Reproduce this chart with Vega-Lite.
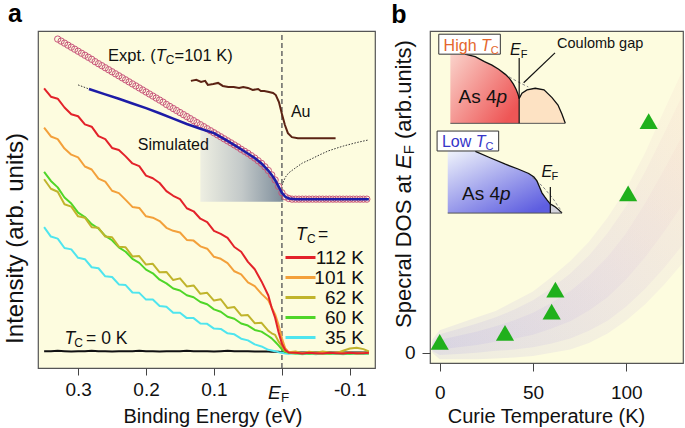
{
"$schema": "https://vega.github.io/schema/vega-lite/v6.json",
"background": "white",
"padding": {"left": 2, "top": 1, "right": 2, "bottom": 0},
"spacing": 14,
"config": {
 "font": "Liberation Sans",
 "axis": {"labelColor": "#111", "titleColor": "#111", "tickColor": "#444", "tickWidth": 1, "domain": false, "grid": false, "titleFontWeight": "normal", "labelFont": "Liberation Sans", "titleFont": "Liberation Sans"},
 "text": {"font": "Liberation Sans", "color": "#111"}
},
"datasets": {
 "spec": [
  {"e":0.35,"0 K":5.0,"35 K":41.8,"60 K":58.2,"62 K":56.0,"101 K":71.3,"112 K":83.0},
  {"e":0.34,"0 K":5.0,"35 K":39.0,"60 K":55.5,"62 K":53.2,"101 K":68.7,"112 K":80.5},
  {"e":0.33,"0 K":5.1,"35 K":38.4,"60 K":53.6,"62 K":52.3,"101 K":67.9,"112 K":79.9},
  {"e":0.32,"0 K":5.0,"35 K":35.6,"60 K":50.6,"62 K":48.6,"101 K":65.1,"112 K":77.3},
  {"e":0.31,"0 K":4.9,"35 K":35.2,"60 K":48.8,"62 K":47.9,"101 K":63.3,"112 K":75.3},
  {"e":0.30,"0 K":5.0,"35 K":32.7,"60 K":46.1,"62 K":45.0,"101 K":62.5,"112 K":74.7},
  {"e":0.29,"0 K":5.0,"35 K":32.3,"60 K":44.8,"62 K":44.6,"101 K":59.8,"112 K":72.3},
  {"e":0.28,"0 K":5.1,"35 K":29.9,"60 K":42.7,"62 K":41.8,"101 K":58.9,"112 K":71.6},
  {"e":0.27,"0 K":5.0,"35 K":29.6,"60 K":41.4,"62 K":41.6,"101 K":56.2,"112 K":68.8},
  {"e":0.26,"0 K":5.0,"35 K":27.2,"60 K":39.2,"62 K":39.0,"101 K":55.3,"112 K":67.9},
  {"e":0.25,"0 K":4.9,"35 K":27.0,"60 K":37.9,"62 K":38.8,"101 K":52.6,"112 K":65.3},
  {"e":0.24,"0 K":5.0,"35 K":24.8,"60 K":35.8,"62 K":36.0,"101 K":51.9,"112 K":64.7},
  {"e":0.23,"0 K":5.0,"35 K":24.6,"60 K":34.5,"62 K":35.8,"101 K":49.9,"112 K":62.8},
  {"e":0.22,"0 K":5.0,"35 K":22.4,"60 K":32.4,"62 K":33.1,"101 K":47.8,"112 K":60.7},
  {"e":0.21,"0 K":5.1,"35 K":22.3,"60 K":31.2,"62 K":33.2,"101 K":47.5,"112 K":59.9},
  {"e":0.20,"0 K":5.0,"35 K":20.3,"60 K":29.2,"62 K":30.7,"101 K":45.0,"112 K":57.1},
  {"e":0.19,"0 K":5.0,"35 K":20.3,"60 K":28.1,"62 K":30.9,"101 K":44.6,"112 K":56.3},
  {"e":0.18,"0 K":4.9,"35 K":18.4,"60 K":26.2,"62 K":28.4,"101 K":43.6,"112 K":54.9},
  {"e":0.17,"0 K":5.0,"35 K":18.2,"60 K":25.1,"62 K":28.5,"101 K":41.6,"112 K":52.5},
  {"e":0.16,"0 K":5.0,"35 K":16.4,"60 K":23.6,"62 K":26.1,"101 K":40.7,"112 K":51.1},
  {"e":0.15,"0 K":5.0,"35 K":16.4,"60 K":23.0,"62 K":26.6,"101 K":40.2,"112 K":50.1},
  {"e":0.14,"0 K":5.1,"35 K":14.8,"60 K":21.6,"62 K":24.2,"101 K":38.0,"112 K":47.4},
  {"e":0.13,"0 K":5.0,"35 K":14.8,"60 K":21.0,"62 K":24.5,"101 K":37.8,"112 K":46.5},
  {"e":0.12,"0 K":5.0,"35 K":13.2,"60 K":19.6,"62 K":22.0,"101 K":36.1,"112 K":44.3},
  {"e":0.11,"0 K":5.0,"35 K":13.1,"60 K":18.9,"62 K":22.3,"101 K":35.4,"112 K":43.3},
  {"e":0.10,"0 K":4.9,"35 K":11.7,"60 K":17.4,"62 K":20.0,"101 K":33.0,"112 K":40.7},
  {"e":0.09,"0 K":5.0,"35 K":11.6,"60 K":16.7,"62 K":20.4,"101 K":32.4,"112 K":39.8},
  {"e":0.08,"0 K":5.1,"35 K":10.3,"60 K":15.2,"62 K":17.8,"101 K":31.1,"112 K":38.6},
  {"e":0.07,"0 K":5.0,"35 K":10.0,"60 K":14.6,"62 K":18.1,"101 K":28.7,"112 K":35.9},
  {"e":0.06,"0 K":5.0,"35 K":8.7,"60 K":13.2,"62 K":15.6,"101 K":27.8,"112 K":34.5},
  {"e":0.05,"0 K":5.0,"35 K":8.2,"60 K":12.6,"62 K":15.7,"101 K":25.4,"112 K":31.5},
  {"e":0.04,"0 K":4.9,"35 K":7.0,"60 K":11.3,"62 K":13.3,"101 K":24.3,"112 K":29.3},
  {"e":0.03,"0 K":4.9,"35 K":6.4,"60 K":10.8,"62 K":13.4,"101 K":22.0,"112 K":25.7},
  {"e":0.02,"0 K":4.9,"35 K":5.4,"60 K":9.5,"62 K":11.0,"101 K":20.1,"112 K":21.5},
  {"e":0.015,"0 K":4.8,"35 K":5.2,"60 K":8.8,"62 K":10.3,"101 K":18.0,"112 K":17.8},
  {"e":0.01,"0 K":4.8,"35 K":5.0,"60 K":7.8,"62 K":9.8,"101 K":15.9,"112 K":14.9},
  {"e":0.005,"0 K":4.8,"35 K":4.7,"60 K":6.7,"62 K":7.9,"101 K":12.8,"112 K":10.7},
  {"e":0.0,"0 K":4.7,"35 K":4.5,"60 K":5.5,"62 K":6.5,"101 K":8.8,"112 K":7.2},
  {"e":-0.005,"0 K":4.7,"35 K":4.3,"60 K":4.8,"62 K":5.0,"101 K":5.8,"112 K":5.3},
  {"e":-0.01,"0 K":4.6,"35 K":4.2,"60 K":4.5,"62 K":4.7,"101 K":4.7,"112 K":4.6},
  {"e":-0.02,"0 K":4.6,"35 K":4.4,"60 K":4.3,"62 K":4.9,"101 K":4.6,"112 K":4.5},
  {"e":-0.03,"0 K":4.6,"35 K":4.1,"60 K":4.4,"62 K":4.4,"101 K":4.4,"112 K":4.3},
  {"e":-0.04,"0 K":4.6,"35 K":4.3,"60 K":4.2,"62 K":4.8,"101 K":4.5,"112 K":4.5},
  {"e":-0.05,"0 K":4.6,"35 K":4.1,"60 K":4.4,"62 K":4.5,"101 K":4.3,"112 K":4.4},
  {"e":-0.06,"0 K":4.6,"35 K":4.4,"60 K":4.3,"62 K":4.9,"101 K":4.5,"112 K":4.3},
  {"e":-0.07,"0 K":4.6,"35 K":4.2,"60 K":4.2,"62 K":4.6,"101 K":4.4,"112 K":4.5},
  {"e":-0.08,"0 K":4.6,"35 K":4.3,"60 K":4.4,"62 K":4.4,"101 K":4.6,"112 K":4.4},
  {"e":-0.09,"0 K":4.6,"35 K":4.1,"60 K":4.3,"62 K":5.1,"101 K":4.4,"112 K":4.3},
  {"e":-0.10,"0 K":4.6,"35 K":4.3,"60 K":4.2,"62 K":5.8,"101 K":4.5,"112 K":4.5},
  {"e":-0.11,"0 K":4.6,"35 K":4.2,"60 K":4.4,"62 K":6.0,"101 K":4.3,"112 K":4.4},
  {"e":-0.12,"0 K":4.6,"35 K":4.3,"60 K":4.3,"62 K":5.6,"101 K":4.5,"112 K":4.4},
  {"e":-0.128,"0 K":4.6,"35 K":4.2,"60 K":4.3,"62 K":4.9,"101 K":4.4,"112 K":4.5}
 ],
 "circ": [
  {"e":0.330,"v":97.6},{"e":0.325,"v":97.0},{"e":0.320,"v":96.4},{"e":0.315,"v":95.8},{"e":0.310,"v":95.2},{"e":0.305,"v":94.6},{"e":0.300,"v":94.0},{"e":0.295,"v":93.4},{"e":0.290,"v":92.8},{"e":0.285,"v":92.2},
  {"e":0.280,"v":91.6},{"e":0.275,"v":90.9},{"e":0.270,"v":90.3},{"e":0.265,"v":89.7},{"e":0.260,"v":89.1},{"e":0.255,"v":88.5},{"e":0.250,"v":87.9},{"e":0.245,"v":87.3},{"e":0.240,"v":86.7},{"e":0.235,"v":86.1},
  {"e":0.230,"v":85.5},{"e":0.225,"v":84.9},{"e":0.220,"v":84.3},{"e":0.215,"v":83.7},{"e":0.210,"v":83.1},{"e":0.205,"v":82.5},{"e":0.200,"v":81.9},{"e":0.195,"v":81.3},{"e":0.190,"v":80.7},{"e":0.185,"v":80.1},
  {"e":0.180,"v":79.5},{"e":0.175,"v":78.9},{"e":0.170,"v":78.2},{"e":0.165,"v":77.6},{"e":0.160,"v":77.0},{"e":0.155,"v":76.4},{"e":0.150,"v":75.8},{"e":0.145,"v":75.2},{"e":0.140,"v":74.6},{"e":0.135,"v":74.0},
  {"e":0.130,"v":73.4},{"e":0.125,"v":72.8},{"e":0.120,"v":72.2},{"e":0.115,"v":71.6},{"e":0.110,"v":71.0},{"e":0.105,"v":70.4},{"e":0.100,"v":69.8},{"e":0.095,"v":69.2},{"e":0.090,"v":68.6},{"e":0.085,"v":68.0},
  {"e":0.080,"v":67.4},{"e":0.075,"v":66.8},{"e":0.070,"v":66.2},{"e":0.065,"v":65.6},{"e":0.060,"v":64.9},{"e":0.055,"v":64.3},{"e":0.050,"v":63.7},{"e":0.045,"v":63.0},{"e":0.040,"v":62.3},{"e":0.035,"v":61.5},
  {"e":0.030,"v":60.7},{"e":0.025,"v":59.7},{"e":0.020,"v":58.6},{"e":0.015,"v":57.3},{"e":0.010,"v":55.8},{"e":0.005,"v":53.9},{"e":0.000,"v":52.0},{"e":-0.005,"v":50.8},{"e":-0.010,"v":50.3},{"e":-0.015,"v":50.1},
  {"e":-0.020,"v":50.1},{"e":-0.025,"v":50.1},{"e":-0.030,"v":50.1},{"e":-0.035,"v":50.1},{"e":-0.040,"v":50.1},{"e":-0.045,"v":50.1},{"e":-0.050,"v":50.1},{"e":-0.055,"v":50.1},{"e":-0.060,"v":50.1},{"e":-0.065,"v":50.1},
  {"e":-0.070,"v":50.1},{"e":-0.075,"v":50.1},{"e":-0.080,"v":50.1},{"e":-0.085,"v":50.1},{"e":-0.090,"v":50.1},{"e":-0.095,"v":50.1},{"e":-0.100,"v":50.1},{"e":-0.105,"v":50.1},{"e":-0.110,"v":50.1},{"e":-0.115,"v":50.1},
  {"e":-0.120,"v":50.1},{"e":-0.125,"v":50.1}
 ],
 "sim": [
  {"e":0.284,"v":82.8},{"e":0.26,"v":81.2},{"e":0.24,"v":79.9},{"e":0.22,"v":78.5},{"e":0.20,"v":77.1},{"e":0.18,"v":75.6},{"e":0.16,"v":74.0},{"e":0.14,"v":72.4},{"e":0.12,"v":71.0},{"e":0.10,"v":69.7},
  {"e":0.08,"v":67.4},{"e":0.06,"v":64.9},{"e":0.04,"v":62.3},{"e":0.03,"v":60.7},{"e":0.02,"v":58.6},{"e":0.015,"v":57.3},{"e":0.01,"v":55.8},{"e":0.005,"v":53.9},{"e":0.0,"v":52.0},{"e":-0.005,"v":50.8},
  {"e":-0.01,"v":50.3},{"e":-0.02,"v":50.1},{"e":-0.128,"v":50.1}
 ],
 "shade": [
  {"e":0.12,"v":71.0},{"e":0.10,"v":69.7},{"e":0.08,"v":67.4},{"e":0.06,"v":64.9},{"e":0.04,"v":62.3},{"e":0.03,"v":60.7},{"e":0.02,"v":58.6},{"e":0.015,"v":57.3},{"e":0.01,"v":55.8},{"e":0.005,"v":53.9},{"e":0.0,"v":52.0},{"e":-0.002,"v":51.3}
 ],
 "dl": [{"e":0.30,"v":84.0},{"e":0.284,"v":82.8}],
 "dr": [{"e":0.0,"v":54.2},{"e":-0.005,"v":56.6},{"e":-0.01,"v":57.9},{"e":-0.018,"v":59.1},{"e":-0.03,"v":60.8},{"e":-0.043,"v":62.0},{"e":-0.055,"v":63.2},{"e":-0.068,"v":64.4},{"e":-0.08,"v":65.2},{"e":-0.091,"v":65.9},{"e":-0.11,"v":66.9},{"e":-0.128,"v":67.7}],
 "au": [
  {"e":0.134,"v":85.2},{"e":0.126,"v":85.5},{"e":0.119,"v":84.9},{"e":0.113,"v":85.2},{"e":0.109,"v":84.0},{"e":0.101,"v":84.3},{"e":0.094,"v":84.6},{"e":0.087,"v":83.7},{"e":0.079,"v":83.4},{"e":0.071,"v":83.4},
  {"e":0.063,"v":83.1},{"e":0.057,"v":83.4},{"e":0.050,"v":83.1},{"e":0.043,"v":82.5},{"e":0.035,"v":82.8},{"e":0.031,"v":82.2},{"e":0.026,"v":82.2},{"e":0.019,"v":81.9},{"e":0.013,"v":81.6},{"e":0.009,"v":81.0},
  {"e":0.0044,"v":78.9},{"e":0.0,"v":75.4},{"e":-0.0044,"v":72.1},{"e":-0.0088,"v":69.7},{"e":-0.0147,"v":68.5},{"e":-0.0235,"v":68.2},{"e":-0.05,"v":68.2},{"e":-0.079,"v":68.2}
 ],
 "efline": [{"e":0.0,"v":0.0,"v2":100.0}],
 "tri": [{"T":0,"d":0.034},{"T":35,"d":0.062},{"T":60,"d":0.128},{"T":62,"d":0.196},{"T":101,"d":0.495},{"T":112,"d":0.72}],
 "band": [
  {"b":1,"T":-4,"d":0.0,"d2":0.04},{"b":1,"T":0,"d":-0.02,"d2":0.07},{"b":1,"T":10,"d":-0.02,"d2":0.09},{"b":1,"T":20,"d":-0.02,"d2":0.11},{"b":1,"T":30,"d":-0.018,"d2":0.13},{"b":1,"T":40,"d":-0.015,"d2":0.16},{"b":1,"T":50,"d":-0.01,"d2":0.19},{"b":1,"T":60,"d":0.0,"d2":0.235},{"b":1,"T":70,"d":0.01,"d2":0.285},{"b":1,"T":80,"d":0.03,"d2":0.345},{"b":1,"T":90,"d":0.06,"d2":0.42},{"b":1,"T":100,"d":0.1,"d2":0.51},{"b":1,"T":110,"d":0.15,"d2":0.62},{"b":1,"T":120,"d":0.21,"d2":0.75},{"b":1,"T":130.4,"d":0.28,"d2":0.88},
  {"b":2,"T":-4,"d":0.005,"d2":0.03},{"b":2,"T":0,"d":-0.0075,"d2":0.0575},{"b":2,"T":10,"d":-0.004,"d2":0.074},{"b":2,"T":20,"d":-0.0005,"d2":0.0905},{"b":2,"T":30,"d":0.006,"d2":0.11},{"b":2,"T":40,"d":0.0096,"d2":0.134},{"b":2,"T":50,"d":0.017,"d2":0.163},{"b":2,"T":60,"d":0.029,"d2":0.201},{"b":2,"T":70,"d":0.044,"d2":0.246},{"b":2,"T":80,"d":0.068,"d2":0.302},{"b":2,"T":90,"d":0.099,"d2":0.372},{"b":2,"T":100,"d":0.144,"d2":0.456},{"b":2,"T":110,"d":0.198,"d2":0.562},{"b":2,"T":120,"d":0.262,"d2":0.678},{"b":2,"T":130.4,"d":0.336,"d2":0.804},
  {"b":3,"T":-4,"d":0.012,"d2":0.022},{"b":3,"T":0,"d":0.01,"d2":0.04},{"b":3,"T":10,"d":0.017,"d2":0.053},{"b":3,"T":20,"d":0.024,"d2":0.066},{"b":3,"T":30,"d":0.034,"d2":0.082},{"b":3,"T":40,"d":0.043,"d2":0.101},{"b":3,"T":50,"d":0.056,"d2":0.124},{"b":3,"T":60,"d":0.075,"d2":0.155},{"b":3,"T":70,"d":0.098,"d2":0.192},{"b":3,"T":80,"d":0.131,"d2":0.239},{"b":3,"T":90,"d":0.172,"d2":0.298},{"b":3,"T":100,"d":0.228,"d2":0.372},{"b":3,"T":110,"d":0.296,"d2":0.464},{"b":3,"T":120,"d":0.374,"d2":0.566},{"b":3,"T":130.4,"d":0.462,"d2":0.678}
 ],
 "redA": [{"T":5.7,"d":0.928},{"T":13.6,"d":0.928},{"T":19,"d":0.92},{"T":24,"d":0.905},{"T":28,"d":0.894},{"T":31.6,"d":0.881},{"T":35.0,"d":0.866},{"T":37.5,"d":0.852},{"T":39.5,"d":0.835},{"T":41.0,"d":0.818},{"T":42.0,"d":0.803},{"T":42.6,"d":0.79}],
 "peach": [{"T":42.6,"d":0.79},{"T":44.1,"d":0.807},{"T":46.8,"d":0.817},{"T":51.2,"d":0.822},{"T":55.9,"d":0.817},{"T":60.2,"d":0.793},{"T":63.4,"d":0.77},{"T":65.5,"d":0.742},{"T":67.3,"d":0.713}],
 "blueA": [{"T":4.3,"d":0.627},{"T":19.1,"d":0.626},{"T":27,"d":0.606},{"T":35.2,"d":0.586},{"T":42,"d":0.571},{"T":47.7,"d":0.557},{"T":50.5,"d":0.546},{"T":52.1,"d":0.534},{"T":53.5,"d":0.515},{"T":54.8,"d":0.497},{"T":56.2,"d":0.485},{"T":57.5,"d":0.475},{"T":59.3,"d":0.462}],
 "grayA": [{"T":59.3,"d":0.462},{"T":60.6,"d":0.458},{"T":62.0,"d":0.453},{"T":63.8,"d":0.444},{"T":65.5,"d":0.434}],
 "blueL": [{"T":19.1,"d":0.626},{"T":27,"d":0.606},{"T":35.2,"d":0.586},{"T":42,"d":0.571},{"T":47.7,"d":0.557},{"T":50.5,"d":0.546},{"T":52.1,"d":0.534},{"T":53.5,"d":0.515},{"T":54.8,"d":0.497},{"T":56.2,"d":0.485},{"T":57.5,"d":0.475},{"T":59.3,"d":0.462},{"T":60.6,"d":0.458},{"T":62.0,"d":0.453},{"T":63.8,"d":0.444},{"T":65.5,"d":0.434}],
 "dash": [
  {"g":1,"T":35.0,"d":0.866},{"g":1,"T":38,"d":0.855},{"g":1,"T":41,"d":0.845},{"g":1,"T":44,"d":0.836},{"g":1,"T":47.5,"d":0.826},
  {"g":2,"T":49.5,"d":0.545},{"g":2,"T":52,"d":0.533},{"g":2,"T":54.8,"d":0.519},{"g":2,"T":56.7,"d":0.507},{"g":2,"T":58.4,"d":0.495},{"g":2,"T":60.2,"d":0.483},{"g":2,"T":61.8,"d":0.47},{"g":2,"T":63.4,"d":0.455},{"g":2,"T":64.5,"d":0.447},{"g":2,"T":65.5,"d":0.434}
 ],
 "bases": [{"T":5.7,"T2":67.3,"d":0.713,"d2":0.713},{"T":4.3,"T2":65.5,"d":0.434,"d2":0.434}],
 "segs": [{"T":42.6,"T2":42.6,"d":0.713,"d2":0.916},{"T":59.3,"T2":59.3,"d":0.434,"d2":0.515},{"T":45.0,"T2":61.8,"d":0.839,"d2":0.932}],
 "boxes": [{"T":-0.5,"T2":32.5,"d":0.928,"d2":0.99},{"T":-1.4,"T2":31.6,"d":0.627,"d2":0.689}]
},
"hconcat": [
 {
  "width": 337, "height": 337,
  "view": {"fill": "#fdfcdf", "stroke": "#555", "strokeWidth": 1.2},
  "encoding": {
   "x": {"field": "e", "type": "quantitative", "scale": {"domain": [0.359, -0.137], "nice": false, "zero": false},
         "axis": {"values": [0.3, 0.2, 0.1, 0, -0.1], "labelExpr": "datum.value == 0 ? '' : (datum.value < 0 ? '-0.1' : format(datum.value, '.1f'))", "title": "Binding Energy (eV)", "titleFontSize": 20, "labelFontSize": 19, "tickSize": 7, "labelPadding": 5.5, "titlePadding": 6.5, "titleX": 174.5, "labelFlush": false, "labelOverlap": false}},
   "y": {"field": "v", "type": "quantitative", "scale": {"domain": [0, 100], "nice": false, "zero": false},
         "axis": {"title": "Intensity (arb. units)", "titleFontSize": 24, "ticks": false, "labels": false, "titlePadding": 11, "titleY": 207}}
  },
  "layer": [
   {"data": {"name": "shade"}, "mark": {"type": "area", "fill": {"gradient": "linear", "x1": 0, "y1": 0, "x2": 1, "y2": 0, "stops": [{"offset": 0, "color": "#eeefe2"}, {"offset": 0.5, "color": "#c3c9c9"}, {"offset": 1, "color": "#7d8d9b"}]}}, "encoding": {"y2": {"datum": 49.3}}},
   {"data": {"name": "efline"}, "mark": {"type": "rule", "color": "#666", "strokeDash": [5, 3], "strokeWidth": 1.5}, "encoding": {"y2": {"field": "v2"}}},
   {"data": {"name": "dl"}, "mark": {"type": "line", "color": "#333", "strokeDash": [1.5, 1.5], "strokeWidth": 1}},
   {"data": {"name": "dr"}, "mark": {"type": "line", "color": "#333", "strokeDash": [1.5, 1.5], "strokeWidth": 1}},
   {"data": {"name": "circ"}, "mark": {"type": "point", "shape": "circle", "size": 40, "strokeWidth": 1, "color": "#c8557a", "filled": false, "opacity": 1}},
   {"data": {"name": "sim"}, "mark": {"type": "line", "color": "#1d1ca6", "strokeWidth": 2.5}},
   {"data": {"name": "au"}, "mark": {"type": "line", "color": "#5b2314", "strokeWidth": 2}},
   {"data": {"name": "spec"}, "transform": [{"fold": ["0 K", "35 K", "60 K", "62 K", "101 K", "112 K"], "as": ["s", "v"]}],
    "mark": {"type": "line", "strokeWidth": 2, "strokeJoin": "round"},
    "encoding": {"color": {"field": "s", "type": "nominal",
      "scale": {"domain": ["112 K", "101 K", "62 K", "60 K", "35 K", "0 K"], "range": ["#e3222a", "#f3a03a", "#c0b42c", "#4fd628", "#4fe5ee", "#111111"]},
      "legend": {"values": ["112 K", "101 K", "62 K", "60 K", "35 K"], "orient": "none", "legendX": 253, "legendY": 217, "title": null, "symbolType": "M-2.5,0L2.5,0", "symbolSize": 144, "symbolStrokeWidth": 3, "labelFontSize": 19, "labelAlign": "right", "labelOffset": 54, "rowPadding": 0, "padding": 0, "labelColor": "#111", "labelFont": "Liberation Sans"}}}},
   {"data": {"values": [{"e": 0.2559, "v": 91.0, "t": "Expt. ("}, {"e": 0.1581, "v": 91.0, "t": "=101 K)"}]}, "mark": {"type": "text", "fontSize": 16.5, "align": "left", "baseline": "alphabetic"}, "encoding": {"text": {"field": "t"}}},
   {"data": {"values": [{"e": 0.1857, "v": 91.0, "t": "T"}]}, "mark": {"type": "text", "fontSize": 16.5, "fontStyle": "italic", "align": "left", "baseline": "alphabetic"}, "encoding": {"text": {"field": "t"}}},
   {"data": {"values": [{"e": 0.1709, "v": 90.1, "t": "C"}, {"e": 0.3057, "v": 6.3, "t": "C"}, {"e": -0.0368, "v": 37.0, "t": "C"}]}, "mark": {"type": "text", "fontSize": 12, "align": "left", "baseline": "alphabetic"}, "encoding": {"text": {"field": "t"}}},
   {"data": {"values": [{"e": 0.2122, "v": 64.8, "t": "Simulated"}, {"e": -0.0132, "v": 74.5, "t": "Au"}]}, "mark": {"type": "text", "fontSize": 16, "align": "left", "baseline": "alphabetic"}, "encoding": {"text": {"field": "t"}}},
   {"data": {"values": [{"e": 0.3201, "v": 7.2, "t": "T"}, {"e": -0.0206, "v": 38.0, "t": "T"}]}, "mark": {"type": "text", "fontSize": 17.5, "fontStyle": "italic", "align": "left", "baseline": "alphabetic"}, "encoding": {"text": {"field": "t"}}},
   {"data": {"values": [{"e": 0.2882, "v": 7.2, "t": "= 0 K"}, {"e": -0.053, "v": 38.0, "t": "="}]}, "mark": {"type": "text", "fontSize": 17.5, "align": "left", "baseline": "alphabetic"}, "encoding": {"text": {"field": "t"}}},
   {"data": {"values": [{"e": 0.0206, "v": -9.3, "t": "E"}]}, "mark": {"type": "text", "fontSize": 19, "fontStyle": "italic", "align": "left", "baseline": "alphabetic"}, "encoding": {"text": {"field": "t"}}},
   {"data": {"values": [{"e": 0.0015, "v": -10.1, "t": "F"}]}, "mark": {"type": "text", "fontSize": 13.5, "align": "left", "baseline": "alphabetic"}, "encoding": {"text": {"field": "t"}}},
   {"data": {"values": [{"e": 0.403, "v": 102.6, "t": "a"}]}, "mark": {"type": "text", "fontSize": 25, "fontWeight": "bold", "color": "#000", "align": "left", "baseline": "alphabetic"}, "encoding": {"text": {"field": "t"}}}
  ]
 },
 {
  "width": 253, "height": 332,
  "view": {"fill": "#fdfcdf", "stroke": "#555", "strokeWidth": 1.2},
  "encoding": {
   "x": {"field": "T", "type": "quantitative", "scale": {"domain": [-5.2, 130.4], "nice": false, "zero": false},
         "axis": {"values": [0, 50, 100], "title": "Curie Temperature (K)", "titleFontSize": 20, "labelFontSize": 19, "tickSize": 8, "labelPadding": 12, "titlePadding": 4, "titleX": 116, "labelFlush": false}},
   "y": {"field": "d", "type": "quantitative", "scale": {"domain": [-0.032, 1.0], "nice": false, "zero": false},
         "axis": {"values": [0], "title": null, "labelFontSize": 19, "tickSize": 8, "labelPadding": 7}}
  },
  "layer": [
   {"data": {"name": "band"}, "mark": {"type": "area", "clip": true, "fillOpacity": 0.17, "fill": {"gradient": "linear", "x1": 0, "y1": 1, "x2": 1, "y2": 0, "stops": [{"offset": 0, "color": "#a79fe6"}, {"offset": 0.5, "color": "#d2bde2"}, {"offset": 1, "color": "#f7d5c8"}]}}, "encoding": {"y2": {"field": "d2"}, "detail": {"field": "b", "type": "nominal"}}},
   {"data": {"name": "redA"}, "mark": {"type": "area", "fill": {"gradient": "linear", "x1": 0, "y1": 0, "x2": 1, "y2": 0.7, "stops": [{"offset": 0, "color": "#fad3cb"}, {"offset": 1, "color": "#ee5656"}]}}, "encoding": {"y2": {"datum": 0.713}}},
   {"data": {"name": "peach"}, "mark": {"type": "area", "fill": "#fde2c3"}, "encoding": {"y2": {"datum": 0.713}}},
   {"data": {"name": "blueA"}, "mark": {"type": "area", "fill": {"gradient": "linear", "x1": 0, "y1": 0, "x2": 0.8, "y2": 1, "stops": [{"offset": 0, "color": "#f0f4fb"}, {"offset": 1, "color": "#5e5ee0"}]}}, "encoding": {"y2": {"datum": 0.434}}},
   {"data": {"name": "grayA"}, "mark": {"type": "area", "fill": "#d4d4dc"}, "encoding": {"y2": {"datum": 0.434}}},
   {"data": {"name": "dash"}, "mark": {"type": "line", "color": "#888", "strokeDash": [3, 2], "strokeWidth": 1}, "encoding": {"detail": {"field": "g", "type": "nominal"}}},
   {"data": {"name": "redA"}, "transform": [{"filter": "datum.T >= 13.6"}], "mark": {"type": "line", "color": "#111", "strokeWidth": 1.3}},
   {"data": {"name": "peach"}, "mark": {"type": "line", "color": "#111", "strokeWidth": 1.3}},
   {"data": {"name": "blueL"}, "mark": {"type": "line", "color": "#111", "strokeWidth": 1.3}},
   {"data": {"name": "bases"}, "mark": {"type": "rule", "color": "#555", "strokeWidth": 1}, "encoding": {"x2": {"field": "T2"}, "y2": {"field": "d2"}}},
   {"data": {"name": "segs"}, "mark": {"type": "rule", "color": "#111", "strokeWidth": 1.2}, "encoding": {"x2": {"field": "T2"}, "y2": {"field": "d2"}}},
   {"data": {"name": "boxes"}, "mark": {"type": "rect", "fill": "white", "stroke": "#333", "strokeWidth": 1}, "encoding": {"x2": {"field": "T2"}, "y2": {"field": "d2"}}},
   {"data": {"values": [{"T": 2.1, "d": 0.938, "t": "High"}]}, "mark": {"type": "text", "fontSize": 16, "color": "#e4662c", "align": "left", "baseline": "alphabetic"}, "encoding": {"text": {"field": "t"}}},
   {"data": {"values": [{"T": 22.1, "d": 0.938, "t": "T"}]}, "mark": {"type": "text", "fontSize": 16, "fontStyle": "italic", "color": "#e4662c", "align": "left", "baseline": "alphabetic"}, "encoding": {"text": {"field": "t"}}},
   {"data": {"values": [{"T": 27.4, "d": 0.929, "t": "C"}]}, "mark": {"type": "text", "fontSize": 11, "color": "#e4662c", "align": "left", "baseline": "alphabetic"}, "encoding": {"text": {"field": "t"}}},
   {"data": {"values": [{"T": 1.2, "d": 0.639, "t": "Low"}]}, "mark": {"type": "text", "fontSize": 16, "color": "#3535c8", "align": "left", "baseline": "alphabetic"}, "encoding": {"text": {"field": "t"}}},
   {"data": {"values": [{"T": 19.3, "d": 0.639, "t": "T"}]}, "mark": {"type": "text", "fontSize": 16, "fontStyle": "italic", "color": "#3535c8", "align": "left", "baseline": "alphabetic"}, "encoding": {"text": {"field": "t"}}},
   {"data": {"values": [{"T": 24.6, "d": 0.63, "t": "C"}]}, "mark": {"type": "text", "fontSize": 11, "color": "#3535c8", "align": "left", "baseline": "alphabetic"}, "encoding": {"text": {"field": "t"}}},
   {"data": {"values": [{"T": 10.1, "d": 0.777, "t": "As 4"}, {"T": 12.0, "d": 0.475, "t": "As 4"}]}, "mark": {"type": "text", "fontSize": 19, "align": "left", "baseline": "alphabetic"}, "encoding": {"text": {"field": "t"}}},
   {"data": {"values": [{"T": 30.4, "d": 0.777, "t": "p"}, {"T": 32.3, "d": 0.475, "t": "p"}]}, "mark": {"type": "text", "fontSize": 19, "fontStyle": "italic", "align": "left", "baseline": "alphabetic"}, "encoding": {"text": {"field": "t"}}},
   {"data": {"values": [{"T": 37.7, "d": 0.925, "t": "E"}, {"T": 54.5, "d": 0.546, "t": "E"}]}, "mark": {"type": "text", "fontSize": 16, "fontStyle": "italic", "align": "left", "baseline": "alphabetic"}, "encoding": {"text": {"field": "t"}}},
   {"data": {"values": [{"T": 43.4, "d": 0.916, "t": "F"}, {"T": 59.9, "d": 0.537, "t": "F"}]}, "mark": {"type": "text", "fontSize": 11, "align": "left", "baseline": "alphabetic"}, "encoding": {"text": {"field": "t"}}},
   {"data": {"values": [{"T": 62.9, "d": 0.946, "t": "Coulomb gap"}]}, "mark": {"type": "text", "fontSize": 14.5, "align": "left", "baseline": "alphabetic"}, "encoding": {"text": {"field": "t"}}},
   {"data": {"name": "tri"}, "mark": {"type": "point", "shape": "triangle-up", "filled": true, "size": 330, "color": "#20b01c", "opacity": 1}},
   {"data": {"values": [{"T": -15.5, "d": 0.0768, "t": "Specral DOS at"}, {"T": -15.5, "d": 0.664, "t": "(arb.units)"}]}, "mark": {"type": "text", "fontSize": 22, "angle": 270, "align": "left", "baseline": "alphabetic"}, "encoding": {"text": {"field": "t"}}},
   {"data": {"values": [{"T": -15.5, "d": 0.571, "t": "E"}]}, "mark": {"type": "text", "fontSize": 22, "fontStyle": "italic", "angle": 270, "align": "left", "baseline": "alphabetic"}, "encoding": {"text": {"field": "t"}}},
   {"data": {"values": [{"T": -13.8, "d": 0.617, "t": "F"}]}, "mark": {"type": "text", "fontSize": 15, "angle": 270, "align": "left", "baseline": "alphabetic"}, "encoding": {"text": {"field": "t"}}},
   {"data": {"values": [{"T": -26.0, "d": 1.025, "t": "b"}]}, "mark": {"type": "text", "fontSize": 25, "fontWeight": "bold", "color": "#000", "align": "left", "baseline": "alphabetic"}, "encoding": {"text": {"field": "t"}}}
  ]
 }
]
}
